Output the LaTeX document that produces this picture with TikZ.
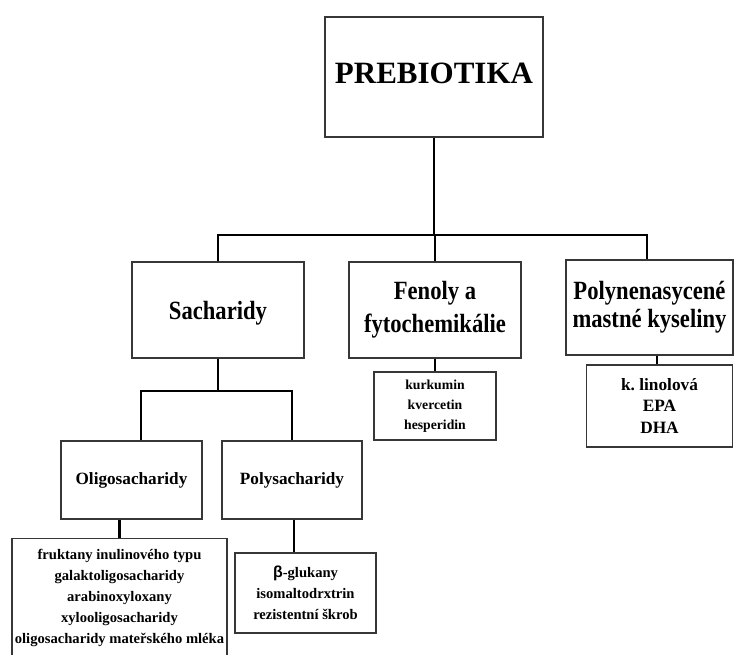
\documentclass[tikz,border=0pt]{standalone}
\usepackage{fontspec}
\setmainfont{Liberation Serif}
\newfontfamily\condfont[FakeStretch=0.86]{Liberation Serif}
\newfontfamily\betafont{Liberation Sans}
\definecolor{boxgray}{RGB}{55,55,55}
\begin{document}
\begin{tikzpicture}[x=1pt,y=-1pt,
  box/.style={draw=boxgray, line width=1.4pt, inner sep=0pt, align=center},
  conn/.style={line width=2.3pt, black},
  lvlA/.style={font=\condfont\bfseries\fontsize{26.3}{28.4}\selectfont},
  lvlB/.style={font=\bfseries\fontsize{17.2}{20}\selectfont},
  small/.style={font=\bfseries\fontsize{14.6}{20.8}\selectfont}]
\useasboundingbox (0,0) rectangle (734,655);
\clip (0,0) rectangle (734,655);
\fill[white] (0,0) rectangle (734,655);

% top
\node[box, minimum width=218, minimum height=120, text depth=8pt,
  font=\bfseries\fontsize{31}{36}\selectfont] (top) at (434,77) {PREBIOTIKA};

% level A
\node[box, lvlA, minimum width=172, minimum height=96, text depth=0pt] (sach) at (218,310) {Sacharidy};
\node[box, lvlA, font=\condfont\bfseries\fontsize{26.3}{33}\selectfont,
  minimum width=172, minimum height=96] (fen) at (435,310) {Fenoly a\\fytochemikálie};
\node[box, lvlA, minimum width=167, minimum height=95] (pol) at (649.5,307.5) {Polynenasycené\\mastné kyseliny};

% lists under level A
\node[box, font=\bfseries\fontsize{13.7}{20}\selectfont,
  minimum width=122, minimum height=68] (fensub) at (435,406) {kurkumin\\kvercetin\\hesperidin};
\node[box, font=\bfseries\fontsize{17.3}{21.5}\selectfont,
  minimum width=146, minimum height=82] (polsub) at (659.5,406) {k.\ linolová\\EPA\\DHA};

% level B
\node[box, lvlB, minimum width=141, minimum height=78] (oligo) at (131.5,480) {Oligosacharidy};
\node[box, lvlB, minimum width=140, minimum height=78] (poly) at (292,480) {Polysacharidy};

% lists under level B
\node[box, minimum width=215, minimum height=140, anchor=north] (oligosub) at (119.5,538) {};
\node[small, align=center, inner sep=0pt] (oligotext) at (119.5,598)
  {fruktany inulinového typu\\galaktoligosacharidy\\arabinoxyloxany\\xylooligosacharidy\\oligosacharidy mateřského mléka};
\node[box, small, minimum width=141, minimum height=80] (polysub) at (305.5,593)
  {{\betafont\bfseries\fontsize{16}{20.8}\selectfont β}-glukany\\isomaltodrxtrin\\rezistentní škrob};

% connectors
\coordinate (b0) at (434,235);
\coordinate (b1) at (218,391);
\draw[conn] (top.south) -- (b0);
\draw[conn] (sach.north) |- (b0) -| ([xshift=-2.5pt]pol.north);
\draw[conn] (fen.north |- b0) -- (fen.north);
\draw[conn] (fen.south) -- (fensub.north);
\draw[conn] ([xshift=-2.5pt]polsub.north) -- ([xshift=-2.5pt]polsub.north |- pol.south);
\draw[conn] (sach.south) -- (b1);
\draw[conn] ([xshift=9.5pt]oligo.north) |- (b1) -| (poly.north);
\draw[conn] (oligosub.north) -- (oligosub.north |- oligo.south);
\draw[conn] ([xshift=2pt]poly.south) -- ([xshift=2pt]poly.south |- polysub.north);
\end{tikzpicture}
\end{document}
